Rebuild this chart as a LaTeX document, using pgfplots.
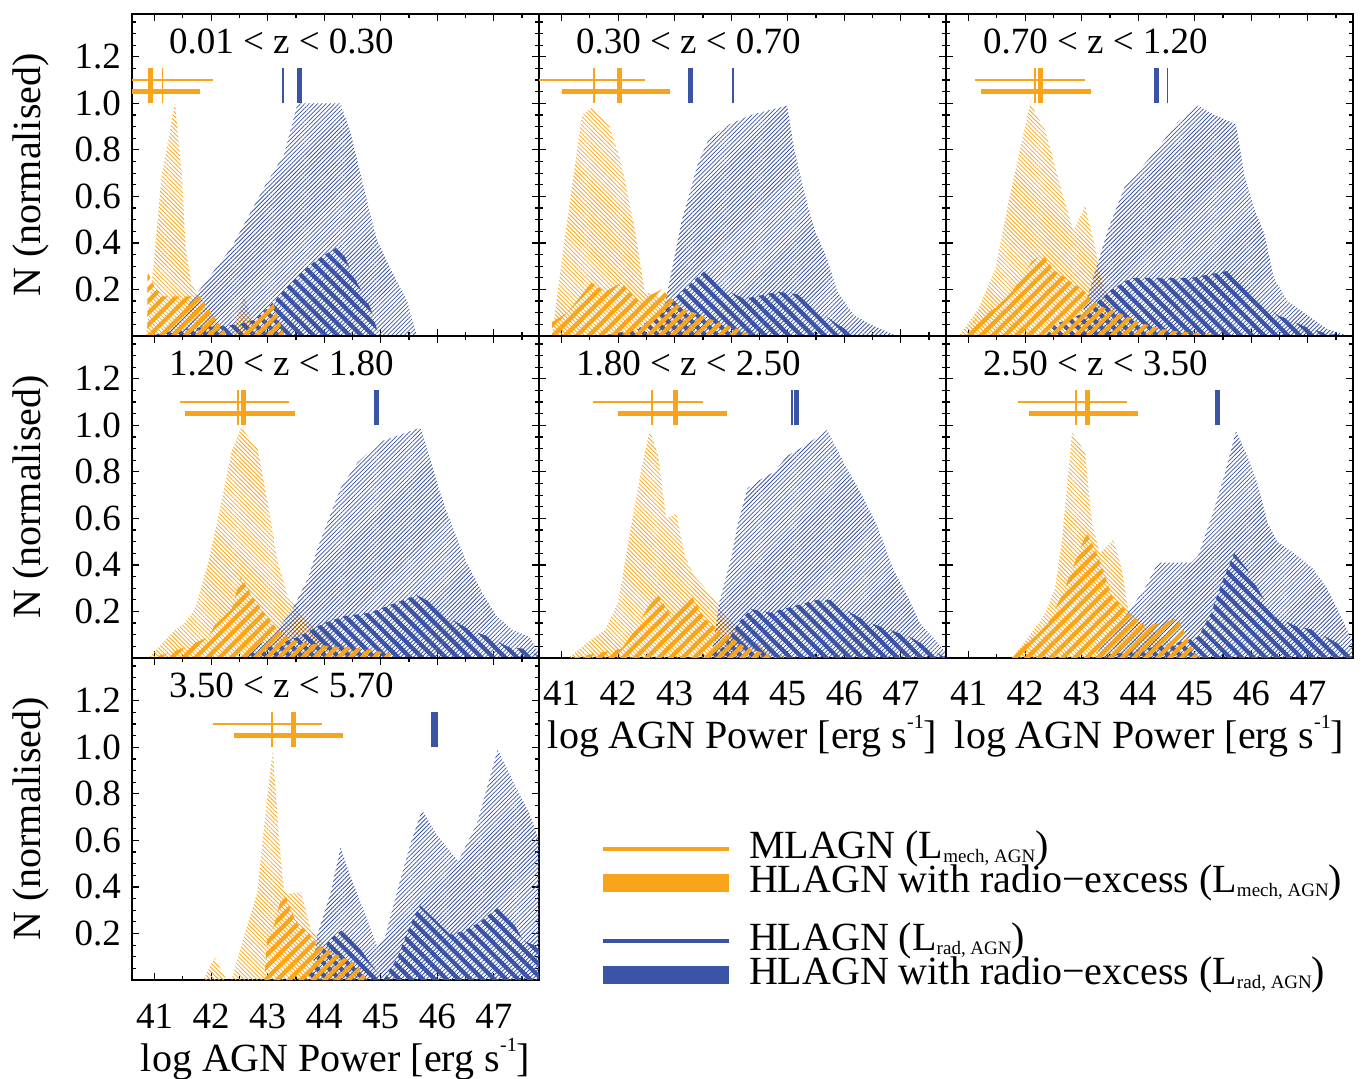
\documentclass[border=0pt]{standalone}
\usepackage{fontspec}
\setmainfont{Liberation Serif}
\usepackage{pgfplots}
\pgfplotsset{compat=1.18}
\usetikzlibrary{patterns.meta}
\definecolor{cor}{HTML}{F9A51B}
\definecolor{cbl}{HTML}{3A53A4}
\newcommand{\tfont}{\fontsize{18.5}{20}\selectfont}
\newcommand{\lfont}{\fontsize{20}{22}\selectfont}
\newcommand{\sub}[1]{\raisebox{-0.12em}{\fontsize{9.5}{10}\selectfont #1}}
\tikzset{
  mfine/.style={draw=none, pattern={Lines[angle=-45,distance=1.5pt,line width=0.4pt]}, pattern color=cor},
  hfine/.style={draw=none, pattern={Lines[angle=45,distance=1.5pt,line width=0.4pt]}, pattern color=cbl},
  mthick/.style={draw=none, pattern={Lines[angle=45,distance=4.2pt,line width=2.1pt]}, pattern color=cor},
  hthick/.style={draw=none, pattern={Lines[angle=-45,distance=4.2pt,line width=2.1pt]}, pattern color=cbl},
}
\pgfplotsset{
  panel/.style={
    scale only axis, width=203.5pt, height=161pt, anchor=north west,
    xmin=40.6, xmax=47.8, ymin=0, ymax=1.384,
    xtick={41,42,43,44,45,46,47},
    minor xtick={40.5,41.5,42.5,43.5,44.5,45.5,46.5,47.5},
    ytick={0.2,0.4,0.6,0.8,1.0,1.2},
    minor ytick={0.05,0.1,0.15,0.25,0.3,0.35,0.45,0.5,0.55,0.65,0.7,0.75,0.85,0.9,0.95,1.05,1.1,1.15,1.25,1.3,1.35},
    xticklabels={}, yticklabels={},
    tick align=inside, major tick length=3.5pt, minor tick length=2pt,
    every tick/.style={black, line width=0.6pt},
    axis line style={line width=0.8pt},
    yticklabel style={font=\tfont, xshift=-2pt},
    xticklabel style={font=\tfont, anchor=base, yshift=-24pt},
    every axis x label/.style={at={(axis description cs:0.5,0)}, anchor=base, yshift=-45.5pt, font=\lfont},
    every axis y label/.style={at={(axis description cs:-0.226,0.5)}, rotate=90, anchor=base, font=\lfont},
  },
  ylab/.style={yticklabels={0.2,0.4,0.6,0.8,1.0,1.2}, ylabel={N (normalised)}},
  xlab/.style={xticklabels={41,42,43,44,45,46,47}, xlabel={log AGN Power [erg s\raisebox{0.5em}{\fontsize{10}{10}\selectfont -1}]}},
}
% error bars: thin lo, thin hi, thin median, thick lo, thick hi, thick median, blue thin median, blue thick median
\newcommand{\bars}[8]{%
  \addplot[cor, line width=0.85pt] coordinates {(#1,1.10) (#2,1.10)};
  \addplot[cor, line width=0.85pt] coordinates {(#3,1.0) (#3,1.15)};
  \addplot[cor, line width=2.5pt] coordinates {(#4,1.05) (#5,1.05)};
  \addplot[cor, line width=2.5pt] coordinates {(#6,1.0) (#6,1.15)};
  \addplot[cbl, line width=0.85pt] coordinates {(#7,1.0) (#7,1.15)};
  \addplot[cbl, line width=2.5pt] coordinates {(#8,1.0) (#8,1.15)};
}
\newcommand{\ztitle}[1]{\node[font=\tfont, anchor=base] at (rel axis cs:0.367,0.877) {#1};}
\begin{document}
\begin{tikzpicture}
\useasboundingbox (0,0) rectangle (683pt,-539.5pt);

% ---------- panel 1 ----------
\begin{axis}[panel, ylab, at={(66pt,-7pt)}]
\addplot[mfine] coordinates {(40.85,0) (41.0,0.35) (41.12,0.68) (41.36,1.0) (41.48,0.7) (41.55,0.38) (41.65,0.22) (41.8,0.17) (42.0,0.1) (42.2,0.03) (42.35,0.01) (42.58,0.17) (42.75,0.05) (43.0,0.02) (43.3,0)} \closedcycle;
\addplot[hfine] coordinates {(41.2,0) (41.77,0.19) (42.36,0.38) (42.94,0.64) (43.29,0.78) (43.53,1.0) (44.29,1.0) (44.47,0.87) (44.7,0.64) (44.82,0.52) (44.94,0.41) (45.17,0.29) (45.47,0.15) (45.64,0)} \closedcycle;
\addplot[hthick] coordinates {(40.9,0) (41.5,0.03) (42.0,0.04) (42.5,0.05) (42.77,0.07) (43.12,0.15) (43.53,0.26) (43.88,0.33) (44.29,0.39) (44.47,0.28) (44.82,0.12) (44.97,0)} \closedcycle;
\addplot[mthick] coordinates {(40.87,0) (40.87,0.28) (41.0,0.21) (41.15,0.17) (41.5,0.17) (41.8,0.17) (42.0,0.1) (42.3,0) (42.4,0) (42.7,0.06) (43.1,0.14) (43.3,0)} \closedcycle;
\bars{40.6}{42.03}{41.14}{40.6}{41.8}{40.92}{43.27}{43.57}
\ztitle{0.01 < z < 0.30}
\end{axis}

% ---------- panel 2 ----------
\begin{axis}[panel, at={(269.5pt,-7pt)}]
\addplot[mfine] coordinates {(40.83,0) (41.0,0.32) (41.24,0.74) (41.36,0.95) (41.53,0.98) (41.83,0.91) (42.06,0.74) (42.3,0.45) (42.47,0.19) (42.6,0.18) (42.94,0.15) (43.29,0.09) (43.53,0)} \closedcycle;
\addplot[hfine] coordinates {(42.7,0) (42.88,0.2) (43.12,0.49) (43.41,0.74) (43.59,0.84) (43.88,0.9) (44.35,0.95) (44.99,0.99) (45.11,0.81) (45.29,0.62) (45.47,0.46) (45.7,0.33) (45.88,0.19) (46.17,0.09) (46.46,0.05) (46.93,0)} \closedcycle;
\addplot[hthick] coordinates {(41.7,0) (42.36,0.03) (42.94,0.15) (43.53,0.28) (43.88,0.2) (44.23,0.16) (44.82,0.19) (45.17,0.18) (45.47,0.12) (45.88,0.05) (46.23,0)} \closedcycle;
\addplot[mthick] coordinates {(40.83,0) (40.83,0.06) (41.1,0.1) (41.53,0.23) (41.77,0.19) (42.06,0.23) (42.36,0.15) (42.77,0.2) (43.12,0.12) (43.35,0.1) (43.76,0.06) (44.12,0.03) (44.41,0)} \closedcycle;
\bars{40.6}{42.47}{41.575}{41.0}{42.92}{42.02}{44.03}{43.28}
\ztitle{0.30 < z < 0.70}
\end{axis}

% ---------- panel 3 ----------
\begin{axis}[panel, at={(473pt,-7pt)}]
\addplot[mfine] coordinates {(40.83,0) (41.18,0.12) (41.475,0.29) (41.71,0.58) (42.09,1.0) (42.36,0.88) (42.65,0.62) (42.855,0.45) (43.06,0.56) (43.24,0.38) (43.35,0.23) (43.65,0.09) (44.12,0)} \closedcycle;
\addplot[hfine] coordinates {(42.9,0) (43.18,0.23) (43.47,0.46) (43.76,0.64) (44.29,0.79) (44.7,0.92) (45.06,0.99) (45.35,0.95) (45.73,0.91) (45.88,0.69) (46.05,0.55) (46.23,0.44) (46.4,0.25) (46.64,0.15) (47.05,0.08) (47.34,0.03) (47.75,0)} \closedcycle;
\addplot[hthick] coordinates {(42.36,0) (42.53,0.05) (43.06,0.1) (43.53,0.2) (43.88,0.25) (44.41,0.25) (44.94,0.25) (45.58,0.28) (45.76,0.23) (46.11,0.16) (46.46,0.09) (46.76,0.06) (47.05,0.03) (47.34,0.01) (47.64,0)} \closedcycle;
\addplot[mthick] coordinates {(40.86,0) (41.12,0.07) (41.475,0.12) (41.77,0.19) (42.12,0.32) (42.3,0.35) (42.53,0.28) (42.83,0.23) (43.06,0.19) (43.18,0.15) (43.41,0.12) (43.76,0.09) (44.0,0.06) (44.41,0.03) (44.7,0.02) (45.58,0)} \closedcycle;
\bars{41.12}{43.06}{42.17}{41.22}{43.16}{42.27}{44.52}{44.33}
\ztitle{0.70 < z < 1.20}
\end{axis}

% ---------- panel 4 ----------
\begin{axis}[panel, ylab, at={(66pt,-168pt)}]
\addplot[mfine] coordinates {(40.89,0) (41.36,0.12) (41.53,0.15) (41.71,0.21) (41.95,0.41) (42.18,0.67) (42.36,0.885) (42.53,0.99) (42.82,0.9) (43.0,0.67) (43.18,0.41) (43.35,0.27) (43.59,0.195) (43.88,0.12) (44.23,0.066) (44.7,0.02) (45.17,0)} \closedcycle;
\addplot[hfine] coordinates {(42.5,0) (43.06,0.09) (43.41,0.195) (43.71,0.34) (43.88,0.47) (44.29,0.73) (44.59,0.84) (45.0,0.93) (45.7,0.99) (45.82,0.9) (46.05,0.71) (46.29,0.55) (46.52,0.41) (46.82,0.27) (47.05,0.18) (47.34,0.12) (47.64,0.09) (47.8,0.02)} \closedcycle;
\addplot[hthick] coordinates {(42.47,0) (42.94,0.04) (43.53,0.09) (44.0,0.15) (44.35,0.18) (44.82,0.195) (45.29,0.24) (45.64,0.27) (45.88,0.24) (46.23,0.17) (46.58,0.12) (46.93,0.09) (47.23,0.05) (47.52,0.04) (47.8,0.01)} \closedcycle;
\addplot[mthick] coordinates {(40.95,0) (41.48,0.04) (41.95,0.09) (42.06,0.14) (42.36,0.21) (42.53,0.35) (42.71,0.27) (42.94,0.195) (43.18,0.12) (43.41,0.08) (43.65,0.066) (44.12,0.05) (44.7,0.04) (45.17,0.02) (45.29,0)} \closedcycle;
\bars{41.45}{43.38}{42.48}{41.53}{43.48}{42.58}{44.92}{44.92}
\ztitle{1.20 < z < 1.80}
\end{axis}

% ---------- panel 5 ----------
\begin{axis}[panel, xlab, at={(269.5pt,-168pt)}]
\addplot[mfine] coordinates {(41.12,0) (41.475,0.07) (41.77,0.12) (42.0,0.24) (42.24,0.58) (42.41,0.81) (42.56,0.98) (42.71,0.87) (42.85,0.6) (43.03,0.62) (43.18,0.44) (43.35,0.35) (43.65,0.27) (43.88,0.195) (44.12,0.12) (44.41,0.07) (44.82,0.02) (45.17,0)} \closedcycle;
\addplot[hfine] coordinates {(43.65,0) (43.79,0.24) (44.0,0.43) (44.12,0.58) (44.29,0.73) (44.47,0.76) (44.76,0.8) (45.0,0.87) (45.29,0.91) (45.7,0.98) (45.99,0.84) (46.29,0.71) (46.58,0.57) (46.87,0.38) (47.11,0.27) (47.34,0.15) (47.64,0.07) (47.8,0.02)} \closedcycle;
\addplot[hthick] coordinates {(43.53,0) (43.88,0.05) (44.12,0.15) (44.35,0.21) (44.7,0.195) (45.06,0.22) (45.52,0.25) (45.76,0.25) (46.11,0.195) (46.46,0.15) (46.82,0.12) (47.17,0.09) (47.52,0.04) (47.8,0.0)} \closedcycle;
\addplot[mthick] coordinates {(41.18,0) (42.06,0.04) (42.3,0.12) (42.53,0.22) (42.71,0.27) (42.94,0.18) (43.29,0.27) (43.53,0.17) (43.76,0.12) (43.99,0.09) (44.23,0.05) (44.59,0.02) (44.82,0)} \closedcycle;
\bars{41.56}{43.5}{42.6}{41.99}{43.93}{43.02}{45.08}{45.16}
\ztitle{1.80 < z < 2.50}
\end{axis}

% ---------- panel 6 ----------
\begin{axis}[panel, xlab, at={(473pt,-168pt)}]
\addplot[mfine] coordinates {(41.77,0) (42.06,0.09) (42.36,0.195) (42.53,0.3) (42.65,0.5) (42.83,0.97) (43.06,0.885) (43.18,0.58) (43.32,0.45) (43.56,0.51) (43.71,0.38) (43.82,0.21) (44.12,0.14) (44.41,0.09) (44.82,0.05) (45.17,0)} \closedcycle;
\addplot[hfine] coordinates {(43.2,0) (43.82,0.195) (44.12,0.3) (44.35,0.41) (44.94,0.41) (45.06,0.44) (45.29,0.6) (45.52,0.78) (45.73,0.975) (45.93,0.87) (46.11,0.75) (46.29,0.58) (46.46,0.5) (46.76,0.45) (47.11,0.38) (47.34,0.3) (47.64,0.15) (47.8,0.07)} \closedcycle;
\addplot[hthick] coordinates {(43.2,0) (44.12,0.04) (44.7,0.066) (45.06,0.09) (45.29,0.195) (45.47,0.32) (45.7,0.45) (45.93,0.38) (46.11,0.3) (46.4,0.18) (46.76,0.14) (47.11,0.12) (47.4,0.08) (47.7,0.04) (47.8,0.01)} \closedcycle;
\addplot[mthick] coordinates {(41.71,0) (41.83,0.04) (42.06,0.066) (42.41,0.15) (42.65,0.27) (42.88,0.41) (43.09,0.54) (43.29,0.44) (43.53,0.27) (43.82,0.195) (44.12,0.14) (44.41,0.15) (44.7,0.17) (44.94,0.05) (45.06,0)} \closedcycle;
\bars{41.87}{43.81}{42.9}{42.06}{44.0}{43.11}{45.41}{45.41}
\ztitle{2.50 < z < 3.50}
\end{axis}

% ---------- panel 7 ----------
\begin{axis}[panel, ylab, xlab, at={(66pt,-329pt)}]
\addplot[mfine] coordinates {(41.86,0) (42.06,0.095) (42.27,0) (42.36,0) (42.59,0.195) (42.82,0.38) (42.97,0.74) (43.09,0.985) (43.21,0.58) (43.29,0.38) (43.41,0.37) (43.59,0.38) (43.76,0.22) (44.0,0.15) (44.35,0.095) (44.7,0.02) (44.76,0)} \closedcycle;
\addplot[hfine] coordinates {(43.76,0) (43.88,0.195) (44.12,0.38) (44.29,0.57) (44.47,0.44) (44.7,0.3) (44.93,0.15) (45.06,0.17) (45.29,0.38) (45.52,0.58) (45.73,0.73) (45.99,0.625) (46.37,0.51) (46.7,0.67) (47.07,0.99) (47.34,0.855) (47.64,0.71) (47.8,0.6)} \closedcycle;
\addplot[hthick] coordinates {(43.65,0) (43.88,0.095) (44.12,0.18) (44.35,0.22) (44.59,0.15) (44.82,0.07) (45.05,0) (45.29,0.095) (45.58,0.27) (45.7,0.32) (46.0,0.25) (46.23,0.195) (46.46,0.21) (46.76,0.25) (47.11,0.32) (47.29,0.27) (47.52,0.17) (47.8,0.14)} \closedcycle;
\addplot[mthick] coordinates {(42.94,0) (42.99,0.17) (43.12,0.24) (43.18,0.3) (43.29,0.38) (43.41,0.3) (43.53,0.24) (43.71,0.21) (43.88,0.15) (44.12,0.12) (44.35,0.095) (44.59,0.066) (44.76,0)} \closedcycle;
\bars{42.03}{43.97}{43.08}{42.41}{44.34}{43.45}{45.99}{45.93}
\ztitle{3.50 < z < 5.70}
\end{axis}

% ---------- legends ----------
\begin{axis}[hide axis, scale only axis, width=1pt, height=1pt, anchor=north west, at={(297pt,-416pt)},
  xmin=0, xmax=1, ymin=0, ymax=1,
  legend cell align=left,
  legend style={at={(rel axis cs:0,1)}, anchor=north west, draw=none, fill=none, inner sep=0pt, outer sep=0pt,
    font=\lfont, row sep=0pt, nodes={inner sep=0pt, text height=13pt, text depth=4pt}},
  legend image code/.code={\draw[#1] (0pt,0pt) -- (63pt,0pt); \path (68.5pt,0pt);}]
\addlegendimage{cor, line width=1.6pt}
\addlegendentry{MLAGN (L\sub{mech, AGN})}
\addlegendimage{cor, line width=9pt}
\addlegendentry{HLAGN with radio−excess (L\sub{mech, AGN})}
\end{axis}
\begin{axis}[hide axis, scale only axis, width=1pt, height=1pt, anchor=north west, at={(297pt,-462pt)},
  xmin=0, xmax=1, ymin=0, ymax=1,
  legend cell align=left,
  legend style={at={(rel axis cs:0,1)}, anchor=north west, draw=none, fill=none, inner sep=0pt, outer sep=0pt,
    font=\lfont, row sep=0pt, nodes={inner sep=0pt, text height=13pt, text depth=4pt}},
  legend image code/.code={\draw[#1] (0pt,0pt) -- (63pt,0pt); \path (68.5pt,0pt);}]
\addlegendimage{cbl, line width=1.6pt}
\addlegendentry{HLAGN (L\sub{rad, AGN})}
\addlegendimage{cbl, line width=9pt}
\addlegendentry{HLAGN with radio−excess (L\sub{rad, AGN})}
\end{axis}
\end{tikzpicture}
\end{document}
